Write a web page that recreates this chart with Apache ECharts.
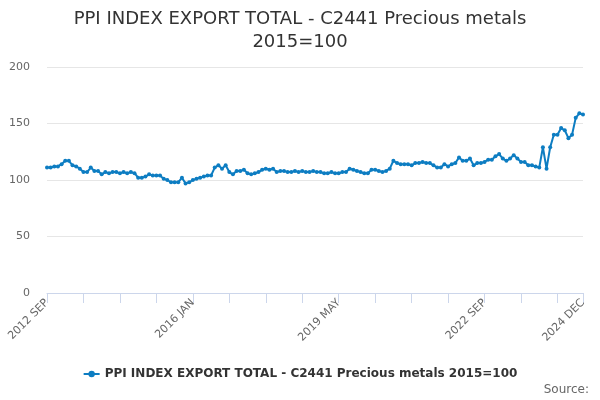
<!DOCTYPE html>
<html>
<head>
<meta charset="utf-8">
<script src="https://cdn.jsdelivr.net/npm/echarts@6/dist/echarts.min.js"></script>
<style>
html,body{margin:0;padding:0;background:#fff;}
#chart{width:600px;height:400px;}
</style>
</head>
<body>
<div id="chart"></div>
<script>
var startYear = 2012;
var startMonth = 9; // September
var monthNames = ["JAN","FEB","MAR","APR","MAY","JUN","JUL","AUG","SEP","OCT","NOV","DEC"];

var values = [
  111,111,112,112,114,117,117,113,112,110,
  107,107,111,108,108,105,107,106,107,107,
  106,107,106,107,106,102,102,103,105,104,
  104,104,101,100,98,98,98,102,97,98,
  100,101,102,103,104,104,111,113,110,113,
  107,105,108,108,109,106,105,106,107,109,
  110,109,110,107,108,108,107,107,108,107,
  108,107,107,108,107,107,106,106,107,106,
  106,107,107,110,109,108,107,106,106,109,
  109,108,107,108,110,117,115,114,114,114,
  113,115,115,116,115,115,113,111,111,114,
  112,114,115,120,117,117,119,113,115,115,
  116,118,118,121,123,119,117,119,122,119,
  116,116,113,113,112,111,129,110,129,140,
  140,146,144,137,140,155,159,158
];

var categories = [];
for (var k = 0; k < values.length; k++) {
  var m = (startMonth - 1 + k);
  categories.push((startYear + Math.floor(m / 12)) + " " + monthNames[m % 12]);
}

var yTicks = [0, 50, 100, 150, 200];
var seriesName = "PPI INDEX EXPORT TOTAL - C2441 Precious metals 2015=100";
var titleText = "PPI INDEX EXPORT TOTAL - C2441 Precious metals\n2015=100";

var last = categories.length - 1;
var chart = echarts.init(document.getElementById('chart'), null, {renderer: 'canvas'});
chart.setOption({
  animation: false,
  backgroundColor: '#ffffff',
  textStyle: {fontFamily: 'DejaVu Sans'},
  title: {
    text: titleText,
    left: 'center',
    top: 3,
    textStyle: {fontFamily: 'DejaVu Sans', fontSize: 18, fontWeight: 'normal', color: '#333333', lineHeight: 23}
  },
  legend: {
    data: [seriesName],
    bottom: 15,
    left: 'center',
    itemWidth: 16,
    itemHeight: 8,
    textStyle: {fontFamily: 'DejaVu Sans', fontSize: 12, fontWeight: 'bold', color: '#333333'}
  },
  graphic: [{
    type: 'text',
    right: 11,
    bottom: 4,
    style: {text: 'Source:', fontFamily: 'DejaVu Sans', fontSize: 12, fill: '#666666'}
  }],
  grid: {left: 47, right: 17, top: 67, bottom: 107, containLabel: false},
  xAxis: {
    type: 'category',
    data: categories,
    boundaryGap: false,
    axisLine: {lineStyle: {color: '#ccd6eb', width: 1}},
    axisTick: {
      show: true,
      length: 10,
      lineStyle: {color: '#ccd6eb'},
      interval: function (idx) { return idx % 10 === 0 || idx === last; }
    },
    axisLabel: {
      rotate: 45,
      color: '#666666',
      fontSize: 11,
      fontFamily: 'DejaVu Sans',
      margin: 8,
      interval: function (idx) { return idx % 40 === 0 || idx === last; }
    },
    splitLine: {show: false}
  },
  yAxis: {
    type: 'value',
    min: yTicks[0],
    max: yTicks[yTicks.length - 1],
    interval: 50,
    axisLine: {show: false},
    axisTick: {show: false},
    axisLabel: {color: '#666666', fontSize: 11, fontFamily: 'DejaVu Sans', margin: 17},
    splitLine: {lineStyle: {color: '#e6e6e6', width: 1}}
  },
  series: [{
    name: seriesName,
    type: 'line',
    data: values,
    color: '#0d7dc2',
    symbol: 'circle',
    symbolSize: 4,
    showAllSymbol: true,
    lineStyle: {width: 2, color: '#0d7dc2'},
    itemStyle: {color: '#0d7dc2'}
  }]
});
</script>
</body>
</html>
